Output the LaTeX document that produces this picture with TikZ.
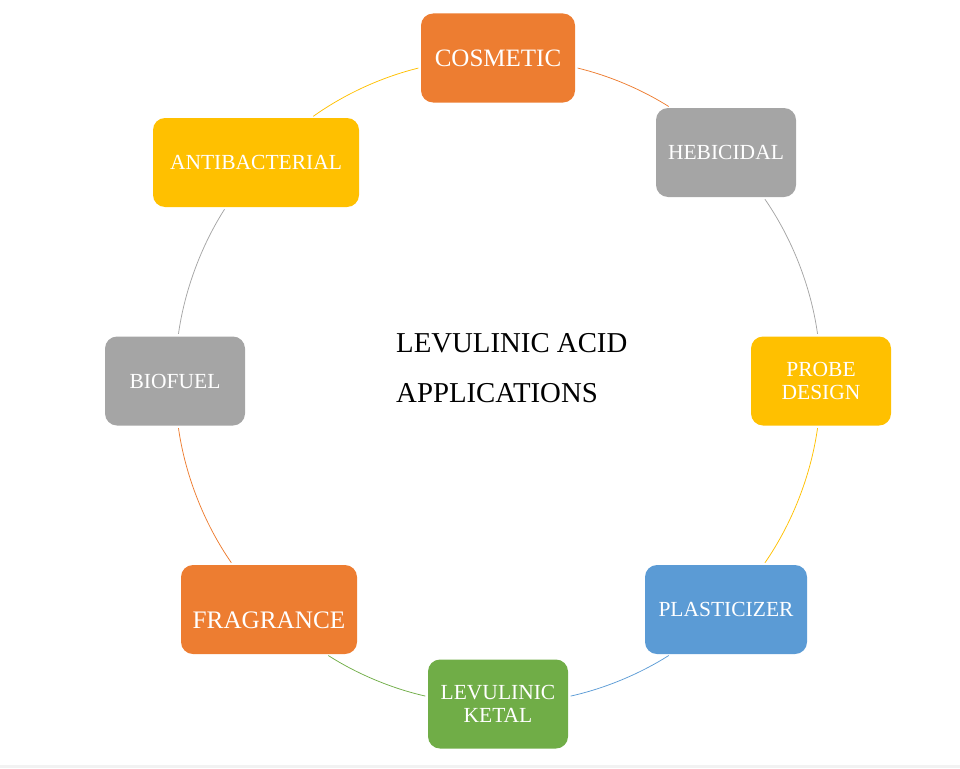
\documentclass[tikz,border=0pt]{standalone}
\usepackage{fontspec}
\setmainfont{Liberation Serif}

\definecolor{appOrange}{HTML}{ED7D31}
\definecolor{appGray}{HTML}{A5A5A5}
\definecolor{appYellow}{HTML}{FFC000}
\definecolor{appBlue}{HTML}{5B9BD5}
\definecolor{appGreen}{HTML}{70AD47}
\definecolor{stripGray}{HTML}{F2F2F2}

\tikzset{
	appbox/.style={rounded corners=12pt, inner sep=0.75pt, text=white, align=center, minimum height=89pt, font=\fontsize{21.5}{22.5}\selectfont},
	bigbox/.style={appbox, font=\fontsize{25}{26}\selectfont},
	ring/.style={line width=0.75pt, bend right=#1, looseness=0.86, shorten <=2.5pt, shorten >=2.5pt},
	title/.style={anchor=base west, inner sep=0pt, font=\fontsize{28.8}{30}\selectfont}
}

\begin{document}
\begin{tikzpicture}[x=1pt,y=1pt,yscale=-1,xscale=1]
			%set diagram size 960 x 768
			\useasboundingbox (0,0) rectangle (960,768);
			\fill [stripGray] (0,765) rectangle (960,768);
			
			%Rounded Rect [id:cosmetic] 
			\node (cos) at (498,58) [bigbox, fill=appOrange, minimum width=154pt] {COSMETIC};
			%Rounded Rect [id:hebicidal] 
			\node (heb) at (726,152.5) [appbox, fill=appGray, minimum width=140pt] {HEBICIDAL};
			%Rounded Rect [id:probe] 
			\node (probe) at (821,381) [appbox, fill=appYellow, minimum width=140pt] {PROBE\\DESIGN};
			%Rounded Rect [id:plasticizer] 
			\node (plast) at (726,609.5) [appbox, fill=appBlue, minimum width=162pt] {PLASTICIZER};
			%Rounded Rect [id:ketal] 
			\node (ketal) at (498,704) [appbox, fill=appGreen, minimum width=140pt] {LEVULINIC\\KETAL};
			%Rounded Rect [id:fragrance] (text sits low in its box)
			\node (frag) at (269,609.5) [bigbox, fill=appOrange, minimum width=176pt, font=\fontsize{25.2}{26}\selectfont, text height=37pt, text depth=0pt] {FRAGRANCE};
			%Rounded Rect [id:biofuel] 
			\node (bio) at (175,381) [appbox, fill=appGray, minimum width=140pt] {BIOFUEL};
			%Rounded Rect [id:antibacterial] 
			\node (anti) at (256,162.5) [appbox, fill=appYellow, minimum width=206pt] {ANTIBACTERIAL};
			
			%Curve Lines 
			\draw [ring=9.25, appOrange] (cos.-7) to (heb.141);
			\draw [ring=13.35, appGray] (heb.-50) to (probe.94);
			\draw [ring=13.35, appYellow] (probe.-94) to (plast.50);
			\draw [ring=9.9, appBlue] (plast.-141) to (ketal.6);
			\draw [ring=9.9, appGreen] (ketal.174) to (frag.-38);
			\draw [ring=13.35, appOrange] (frag.129) to (bio.-86);
			\draw [ring=12.25, appGray] (bio.86) to (anti.-124);
			\draw [ring=10.85, appYellow] (anti.39) to (cos.-173);
			
			% Text Node
			\node (title) at (396,352) [title] {LEVULINIC ACID};
			% Text Node
			\node (subtitle) at (396,402) [title] {APPLICATIONS};
			
\end{tikzpicture}
\end{document}
